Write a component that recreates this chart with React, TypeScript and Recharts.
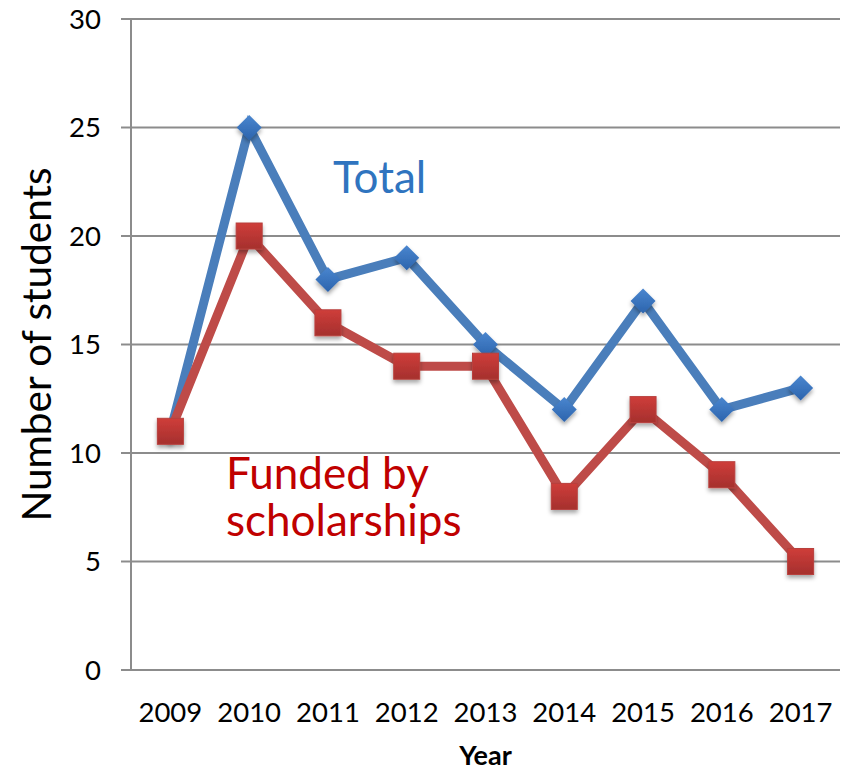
import React from 'react';
import { LineChart, Line, XAxis, YAxis, CartesianGrid, Label } from 'recharts';

const years = [2009, 2010, 2011, 2012, 2013, 2014, 2015, 2016, 2017];
const totalStudents = [11, 25, 18, 19, 15, 12, 17, 12, 13];
const fundedStudents = [11, 20, 16, 14, 14, 8, 12, 9, 5];
const yTicks = [0, 5, 10, 15, 20, 25, 30];

const data = years.map((year, i) => ({ year, total: totalStudents[i], funded: fundedStudents[i] }));
const boundaryTicks = [...years.map((y) => y - 0.5), years[years.length - 1] + 0.5];
const xDomain = [boundaryTicks[0], boundaryTicks[boundaryTicks.length - 1]];

const FONT = 'Lato, "Open Sans", sans-serif';
const GRID = '#8c8c8c';

const Diamond = (props: any) => {
  const { cx, cy, index } = props;
  if (cx == null || cy == null) return null;
  const r = 12.5;
  return (
    <path
      key={`d-${index}`}
      d={`M${cx},${cy - r} L${cx + r},${cy} L${cx},${cy + r} L${cx - r},${cy} Z`}
      fill="url(#blueGrad)"
      filter="url(#markShadow)"
    />
  );
};

const Square = (props: any) => {
  const { cx, cy, index } = props;
  if (cx == null || cy == null) return null;
  const h = 13;
  return (
    <rect
      key={`s-${index}`}
      x={cx - h}
      y={cy - h}
      width={2 * h}
      height={2 * h}
      fill="url(#redGrad)"
      stroke="#b8403d"
      strokeWidth={1}
      filter="url(#markShadow)"
    />
  );
};

export default function App() {
  return (
    <div style={{ position: 'absolute', left: 0, top: 0, width: 847, height: 771, background: '#fff' }}>
      <LineChart
        width={847}
        height={771}
        data={data}
        margin={{ top: 19, right: 7, left: 0, bottom: 0 }}
        style={{ fontFamily: FONT }}
      >
        <defs>
          <linearGradient id="blueGrad" x1="0" y1="0" x2="0" y2="1">
            <stop offset="0%" stopColor="#4a86cf" />
            <stop offset="100%" stopColor="#2c64ad" />
          </linearGradient>
          <linearGradient id="redGrad" x1="0" y1="0" x2="0" y2="1">
            <stop offset="0%" stopColor="#cf3d3a" />
            <stop offset="100%" stopColor="#a5302d" />
          </linearGradient>
          <filter id="markShadow" x="-50%" y="-50%" width="200%" height="200%">
            <feDropShadow dx="0" dy="3" stdDeviation="2" floodColor="#000" floodOpacity="0.35" />
          </filter>
        </defs>
        <CartesianGrid horizontal vertical={false} stroke={GRID} strokeWidth={2} />
        <XAxis
          xAxisId="bounds"
          dataKey="year"
          type="number"
          domain={xDomain}
          ticks={boundaryTicks}
          tick={false}
          tickSize={10}
          height={0}
          axisLine={{ stroke: GRID, strokeWidth: 2 }}
          tickLine={{ stroke: GRID, strokeWidth: 2 }}
          allowDataOverflow
        />
        <XAxis
          xAxisId="labels"
          dataKey="year"
          type="number"
          domain={xDomain}
          ticks={years}
          tickLine={false}
          axisLine={false}
          tickSize={0}
          tickMargin={32}
          height={101}
          interval={0}
          tick={{ fill: '#000', fontSize: 27.5, fontFamily: FONT }}
          allowDataOverflow
        >
          <Label
            value="Year"
            position="insideBottom"
            offset={6}
            style={{ fill: '#000', fontSize: 27, fontWeight: 700, fontFamily: FONT }}
          />
        </XAxis>
        <YAxis
          domain={[0, 30]}
          ticks={yTicks}
          width={131}
          tickSize={10}
          tickMargin={20}
          interval={0}
          axisLine={{ stroke: GRID, strokeWidth: 2 }}
          tickLine={{ stroke: GRID, strokeWidth: 2 }}
          tick={{ fill: '#000', fontSize: 27.5, fontFamily: FONT }}
        >
          <Label
            value="Number of students"
            angle={-90}
            position="insideLeft"
            offset={37}
            style={{ fill: '#000', fontSize: 40.5, fontFamily: FONT, textAnchor: 'middle' }}
          />
        </YAxis>
        <Line
          xAxisId="labels"
          type="linear"
          dataKey="total"
          stroke="#4a7ebb"
          strokeWidth={9}
          dot={<Diamond />}
          activeDot={false}
          isAnimationActive={false}
        />
        <Line
          xAxisId="labels"
          type="linear"
          dataKey="funded"
          stroke="#be4b48"
          strokeWidth={9}
          dot={<Square />}
          activeDot={false}
          isAnimationActive={false}
        />
      </LineChart>
      <svg
        width={847}
        height={771}
        style={{ position: 'absolute', left: 0, top: 0, pointerEvents: 'none' }}
      >
        <text x={333} y={193} fill="#2f74bf" fontSize={44} fontFamily={FONT}>Total</text>
        <text x={226} y={489} fill="#c00000" fontSize={44} fontFamily={FONT}>
          <tspan x={226} y={489}>Funded by</tspan>
          <tspan x={226} y={536}>scholarships</tspan>
        </text>
      </svg>
    </div>
  );
}
